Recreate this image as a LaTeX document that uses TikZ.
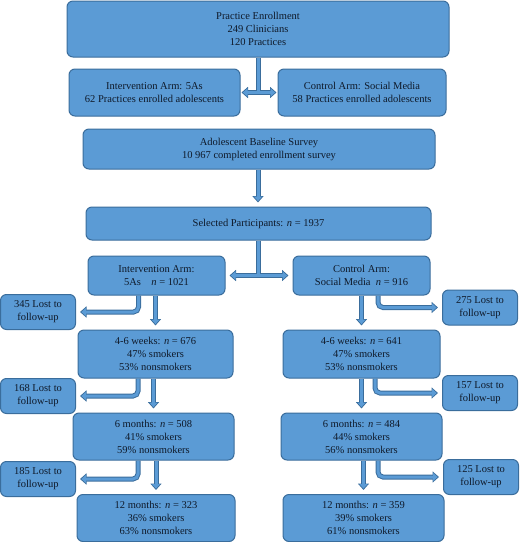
\documentclass[tikz,border=0pt]{standalone}
\usepackage{fontspec}
\setmainfont{Liberation Serif}
\usetikzlibrary{arrows.meta}
\definecolor{boxblue}{HTML}{5B9BD5}
\definecolor{edgeblue}{HTML}{3A6D9C}
\definecolor{inkblue}{HTML}{0F1A2A}
\tikzset{
  every node/.style={font=\fontsize{10.5}{13}\selectfont, text=inkblue},
  stage/.style={
    rectangle, rounded corners=6pt,
    draw=edgeblue, fill=boxblue, line width=1pt,
    align=center, inner sep=2pt
  },
  lost/.style={stage, minimum width=75pt, minimum height=35pt},
  bigtip/.tip={Triangle[length=6.5pt,width=11pt]},
  smalltip/.tip={Triangle[length=4.6pt,width=8pt]},
  arrowouter/.style={draw=edgeblue, line width=5pt, rounded corners=5pt, shorten >=4pt, arrows=-bigtip},
  arrowinner/.style={draw=boxblue, line width=3pt, rounded corners=5pt, shorten >=5.4pt, arrows=-smalltip},
  blockarrow/.style={preaction={arrowouter}, arrowinner},
}
\begin{document}
\begin{tikzpicture}[x=1pt, y=-1pt]
  \useasboundingbox (0,0) rectangle (520,542);

  % enrollment of practices
  \node[stage, minimum width=382pt, minimum height=56pt] (penroll) at (258,29) {Practice Enrollment\\249 Clinicians\\120 Practices};
  \node[stage, minimum width=171pt, minimum height=47pt] (iarmp) at (154.5,92.5) {Intervention Arm: 5As\\62 Practices enrolled adolescents};
  \node[stage, minimum width=168pt, minimum height=47pt] (carmp) at (362,92.5) {Control Arm: Social Media\\58 Practices enrolled adolescents};
  \node[stage, minimum width=352pt, minimum height=40pt] (survey) at (259,149) {Adolescent Baseline Survey\\10 967 completed enrollment survey};
  \node[stage, minimum width=345pt, minimum height=33pt] (select) at (258.5,223.5) {Selected Participants: \textit{n} = 1937};

  % arms
  \node[stage, minimum width=137pt, minimum height=39pt] (iarm) at (156.5,275.5) {Intervention Arm:\\5As\quad\textit{n} = 1021};
  \node[stage, minimum width=137pt, minimum height=39pt] (carm) at (361.5,275.5) {Control Arm:\\Social Media\enspace\textit{n} = 916};

  % follow-up, intervention side
  \node[stage, minimum width=155pt, minimum height=48pt] (iweeks) at (155.5,354) {4-6 weeks: \textit{n} = 676\\47\% smokers\\53\% nonsmokers};
  \node[stage, minimum width=161pt, minimum height=47pt] (isix) at (153.5,436.5) {6 months: \textit{n} = 508\\41\% smokers\\59\% nonsmokers};
  \node[stage, minimum width=158pt, minimum height=47pt] (itwelve) at (156,518) {12 months: \textit{n} = 323\\36\% smokers\\63\% nonsmokers};
  \node[lost] (ilosta) at (38,312) {345 Lost to\\follow-up};
  \node[lost] (ilostb) at (38,396) {168 Lost to\\follow-up};
  \node[lost] (ilostc) at (38,479) {185 Lost to\\follow-up};

  % follow-up, control side
  \node[stage, minimum width=157pt, minimum height=48pt] (cweeks) at (361.5,354) {4-6 weeks: \textit{n} = 641\\47\% smokers\\53\% nonsmokers};
  \node[stage, minimum width=161pt, minimum height=47pt] (csix) at (361.5,436.5) {6 months: \textit{n} = 484\\44\% smokers\\56\% nonsmokers};
  \node[stage, minimum width=161pt, minimum height=47pt] (ctwelve) at (363.5,518) {12 months: \textit{n} = 359\\39\% smokers\\61\% nonsmokers};
  \node[lost] (closta) at (480,307.5) {275 Lost to\\follow-up};
  \node[lost] (clostb) at (480,393) {157 Lost to\\follow-up};
  \node[lost] (clostc) at (481,477) {125 Lost to\\follow-up};

  % split connectors (outline first, then fill)
  \coordinate (splita) at (penroll.south |- iarmp.east);
  \coordinate (splitb) at (select.south -| penroll.south);
  \coordinate (splitbj) at (splitb |- iarm.east);
  \draw[arrowouter, arrows=-, shorten >=0pt] (penroll.south) -- (splita);
  \draw[arrowouter, arrows=bigtip-bigtip, shorten <=1pt, shorten >=1pt] (iarmp.east) -- (carmp.west);
  \draw[arrowouter, arrows=-, shorten >=0pt] (splitb) -- (splitbj);
  \draw[arrowouter, arrows=bigtip-bigtip, shorten <=4pt, shorten >=4pt] (iarm.east) -- (carm.west);
  \draw[arrowinner, arrows=-, shorten >=0pt] (penroll.south) -- (splita);
  \draw[arrowinner, arrows=smalltip-smalltip, shorten <=2.4pt, shorten >=2.4pt] (iarmp.east) -- (carmp.west);
  \draw[arrowinner, arrows=-, shorten >=0pt] (splitb) -- (splitbj);
  \draw[arrowinner, arrows=smalltip-smalltip, shorten <=5.4pt, shorten >=5.4pt] (iarm.east) -- (carm.west);

  \draw[blockarrow] (survey.south -| penroll.south) -- (select.north -| penroll.south);

  % down the intervention arm
  \draw[blockarrow] (iarm.south -| iweeks.north) -- (iweeks.north);
  \draw[blockarrow] ([xshift=-18pt]iarm.south) |- (ilosta.east);
  \draw[blockarrow] (iweeks.south -| isix.north) -- (isix.north);
  \draw[blockarrow] ([xshift=-17.5pt]iweeks.south) |- (ilostb.east);
  \draw[blockarrow] (isix.south -| itwelve.north) -- (itwelve.north);
  \draw[blockarrow] ([xshift=-15.5pt]isix.south) |- (ilostc.east);

  % down the control arm
  \draw[blockarrow] (carm.south -| cweeks.north) -- (cweeks.north);
  \draw[blockarrow] ([xshift=16.5pt]carm.south) |- (closta.west);
  \draw[blockarrow] (cweeks.south -| csix.north) -- (csix.north);
  \draw[blockarrow] ([xshift=13.5pt]cweeks.south) |- (clostb.west);
  \draw[blockarrow] (csix.south -| ctwelve.north) -- (ctwelve.north);
  \draw[blockarrow] ([xshift=16.5pt]csix.south) |- (clostc.west);
\end{tikzpicture}
\end{document}
